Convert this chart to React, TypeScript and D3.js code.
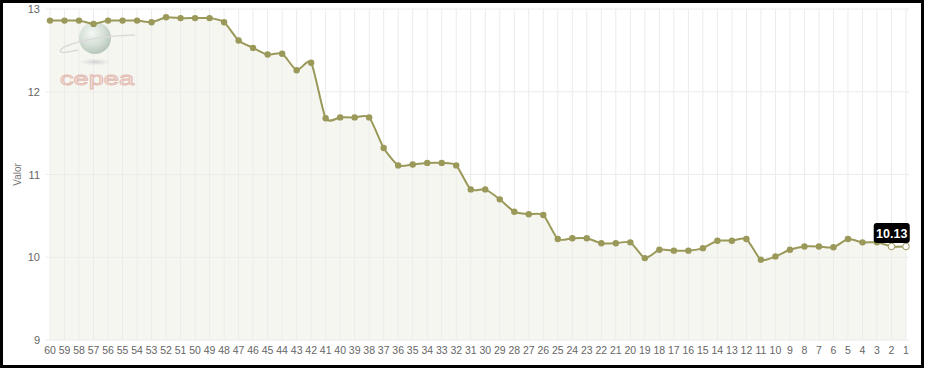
import React from "react";
import * as d3 from "d3";

const categories: number[] = Array.from({ length: 60 }, (_, i) => 60 - i);
const values: number[] = [
  12.86, 12.86, 12.86, 12.82, 12.86, 12.86, 12.86, 12.84, 12.9, 12.89,
  12.89, 12.89, 12.84, 12.62, 12.53, 12.45, 12.46, 12.26, 12.35, 11.68,
  11.69, 11.69, 11.69, 11.32, 11.11, 11.12, 11.14, 11.14, 11.11, 10.82,
  10.82, 10.7, 10.55, 10.52, 10.51, 10.22, 10.23, 10.23, 10.17, 10.17,
  10.18, 9.99, 10.09, 10.08, 10.08, 10.11, 10.2, 10.2, 10.22, 9.97,
  10.01, 10.09, 10.13, 10.13, 10.12, 10.22, 10.18, 10.18, 10.13, 10.13,
];
const yTicks: number[] = [9, 10, 11, 12, 13];
const tooltipText = "10.13";

const W = 925;
const H = 368;
const LINE = "#9a995a";

export default function App() {
  const x = d3.scalePoint<number>().domain(categories).range([50, 906]);
  const y = d3.scaleLinear().domain([9, 13]).range([340, 9]);
  const pts = categories.map((c, i) => [x(c) as number, y(values[i])] as [number, number]);
  const curve = d3.curveCardinal.tension(0.35);
  const line = d3.line().curve(curve)(pts) || "";
  const area =
    d3
      .area()
      .x((d) => d[0])
      .y0(y(9))
      .y1((d) => d[1])
      .curve(curve)(pts) || "";

  const tipX = (x(2) as number + (x(1) as number)) / 2 - 7;
  const tipY = 223;

  return (
    <svg
      width={W}
      height={H}
      style={{ position: "absolute", left: 0, top: 0, fontFamily: "Arial, 'Liberation Sans', sans-serif" }}
    >
      <defs>
        <radialGradient id="globe" cx="40%" cy="35%" r="65%">
          <stop offset="0%" stopColor="#f4f8f4" />
          <stop offset="60%" stopColor="#cfdcd2" />
          <stop offset="100%" stopColor="#aebfb2" />
        </radialGradient>
        <radialGradient id="shadow" cx="50%" cy="50%" r="50%">
          <stop offset="0%" stopColor="#c8c8c8" />
          <stop offset="100%" stopColor="#e8e8e8" stopOpacity={0.3} />
        </radialGradient>
      </defs>
      <rect x={0} y={0} width={W} height={H} fill="#fff" />
      {/* area */}
      <path d={area} fill="#f6f6f1" />
      {/* grid */}
      {categories.map((c) => (
        <line key={"v" + c} x1={x(c)} x2={x(c)} y1={y(13)} y2={y(9)} stroke="#ebebeb" strokeWidth={1} />
      ))}
      {yTicks.map((t) => (
        <line key={"h" + t} x1={46} x2={909} y1={y(t)} y2={y(t)} stroke="#ececec" strokeWidth={1} />
      ))}
      {/* watermark */}
      <g opacity={0.85}>
        <ellipse cx={95} cy={62} rx={15} ry={3.5} fill="url(#shadow)" />
        <circle cx={95} cy={38} r={16} fill="url(#globe)" />
        <path d="M 78 50 Q 52 56 64 47 Q 90 36 135 35" fill="none" stroke="#d6d6d6" strokeWidth={1.5} />
        <text
          x={97}
          y={85}
          textAnchor="middle"
          fontSize={19}
          fill="#f7e6e2"
          stroke="#e0b2a8"
          strokeWidth={0.9}
          textLength={74}
          lengthAdjust="spacingAndGlyphs"
        >
          cepea
        </text>
      </g>
      {/* line */}
      <path d={line} fill="none" stroke={LINE} strokeWidth={2} />
      {pts.map((p, i) =>
        i >= 58 ? (
          <circle key={i} cx={p[0]} cy={p[1]} r={3.3} fill="#fff" stroke={LINE} strokeWidth={1} />
        ) : (
          <circle key={i} cx={p[0]} cy={p[1]} r={3.2} fill={LINE} />
        )
      )}
      {/* y labels */}
      {yTicks.map((t) => (
        <text key={"yl" + t} x={40} y={y(t) + 4} textAnchor="end" fontSize={11} fill="#666">
          {t}
        </text>
      ))}
      <text transform={`translate(21,${y(11)}) rotate(-90)`} textAnchor="middle" fontSize={10} fill="#777">
        Valor
      </text>
      {/* x labels */}
      {categories.map((c) => (
        <text key={"xl" + c} x={x(c) as number} y={354} textAnchor="middle" fontSize={10.5} fill="#666">
          {c}
        </text>
      ))}
      {/* tooltip */}
      <g>
        <rect x={tipX - 18} y={tipY} width={36} height={20} rx={3} fill="#000" />
        <text x={tipX} y={tipY + 14.5} textAnchor="middle" fontSize={12.5} fontWeight="bold" fill="#fff">
          {tooltipText}
        </text>
      </g>
      {/* frame */}
      <rect x={1.5} y={1.5} width={W - 4} height={H - 3} fill="none" stroke="#000" strokeWidth={3} />
    </svg>
  );
}
